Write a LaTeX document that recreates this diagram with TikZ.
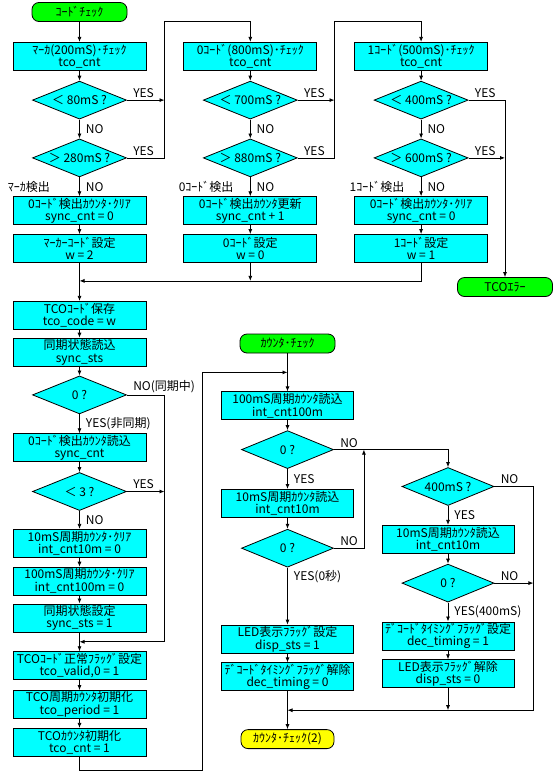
\documentclass[tikz,border=0pt]{standalone}
\usepackage{fontspec}
\setmainfont{Noto Sans CJK JP}
\usepackage{tikz}
\usetikzlibrary{positioning, calc, arrows.meta, shapes.geometric}

\definecolor{boxcyan}{RGB}{0,255,255}
\definecolor{termgreen}{RGB}{0,255,0}
\definecolor{termyellow}{RGB}{255,255,0}

\tikzset{
  txt/.style={font=\fontsize{12}{12.5}\selectfont, inner sep=0pt},
  procbox/.style={txt, draw, fill=boxcyan, minimum width=133pt, minimum height=28pt, align=center},
  condbox/.style={txt, draw, fill=boxcyan, diamond, shape aspect=2.5, minimum width=94pt, minimum height=38pt},
  termbox/.style={txt, draw, fill=termgreen, rounded corners=7pt, minimum width=95pt, minimum height=19pt},
  lbl/.style={txt, inner sep=1pt},
  hlbl/.style={lbl, above right, xshift=5pt, yshift=1pt},
  vlbl/.style={lbl, right, xshift=5pt},
  arr/.style={-{Latex[length=5pt,width=4pt]}},
}

\begin{document}
\begin{tikzpicture}[x=1pt, y=-1pt, line width=0.8pt]
  \useasboundingbox (0,0) rectangle (554,772);

  % code check
  \node[termbox] (start) at (79.5,12) {ｺｰﾄﾞﾁｪｯｸ};
  \node[procbox] (mk) [below=20pt of start] {ﾏｰｶ(200mS)･ﾁｪｯｸ\\tco\_cnt};
  \node[condbox] (mk80) [below=10pt of mk] {＜ 80mS ?};
  \node[condbox] (mk280) [below=19pt of mk80] {＞ 280mS ?};
  \node[procbox] (mkclr) [below=19pt of mk280] {0ｺｰﾄﾞ検出ｶｳﾝﾀ･ｸﾘｱ\\sync\_cnt = 0};
  \node[procbox] (mkset) [below=9pt of mkclr] {ﾏｰｶｰｺｰﾄﾞ設定\\w = 2};
  \node[lbl, above right=2pt and -6pt of mkclr.north west] (mkfound) {ﾏｰｶ検出};

  \node[procbox] (c0) [right=37pt of mk] {0ｺｰﾄﾞ(800mS)･ﾁｪｯｸ\\tco\_cnt};
  \node[condbox] (c0lt) [below=10pt of c0] {＜ 700mS ?};
  \node[condbox] (c0gt) [below=19pt of c0lt] {＞ 880mS ?};
  \node[procbox] (c0upd) [below=19pt of c0gt] {0ｺｰﾄﾞ検出ｶｳﾝﾀ更新\\sync\_cnt + 1};
  \node[procbox] (c0set) [below=9pt of c0upd] {0ｺｰﾄﾞ設定\\w = 0};
  \node[lbl, above right=2pt and -6pt of c0upd.north west] (c0found) {0ｺｰﾄﾞ検出};

  \node[procbox] (c1) [right=37pt of c0] {1ｺｰﾄﾞ(500mS)･ﾁｪｯｸ\\tco\_cnt};
  \node[condbox] (c1lt) [below=10pt of c1] {＜ 400mS ?};
  \node[condbox] (c1gt) [below=19pt of c1lt] {＞ 600mS ?};
  \node[procbox] (c1clr) [below=19pt of c1gt] {0ｺｰﾄﾞ検出ｶｳﾝﾀ･ｸﾘｱ\\sync\_cnt = 0};
  \node[procbox] (c1set) [below=9pt of c1clr] {1ｺｰﾄﾞ設定\\w = 1};
  \node[lbl, above right=2pt and -6pt of c1clr.north west] (c1found) {1ｺｰﾄﾞ検出};
  \node[termbox] (err) at (505,287) {TCOｴﾗｰ};

  \coordinate[below=18pt of mkset] (j1);
  \coordinate (r1) at (164.5,21);
  \coordinate (r2) at (334.5,21);

  % store and sync
  \node[procbox] (save) [below=38pt of mkset] {TCOｺｰﾄﾞ保存\\tco\_code = w};
  \node[procbox] (rdsts) [below=8pt of save] {同期状態読込\\sync\_sts};
  \node[condbox] (dsts) [below=9pt of rdsts] {0 ?};
  \node[procbox] (rdcnt) [below=19pt of dsts] {0ｺｰﾄﾞ検出ｶｳﾝﾀ読込\\sync\_cnt};
  \node[condbox] (d3) [below=10pt of rdcnt] {＜ 3 ?};
  \node[procbox] (clr10) [below=18pt of d3] {10mS周期ｶｳﾝﾀ･ｸﾘｱ\\int\_cnt10m = 0};
  \node[procbox] (clr100) [below=9pt of clr10] {100mS周期ｶｳﾝﾀ･ｸﾘｱ\\int\_cnt100m = 0};
  \node[procbox] (setsts) [below=8pt of clr100] {同期状態設定\\sync\_sts = 1};
  \coordinate[below=9.5pt of setsts] (j2);
  \node[procbox] (valid) [below=19pt of setsts] {TCOｺｰﾄﾞ正常ﾌﾗｯｸﾞ設定\\tco\_valid,0 = 1};
  \node[procbox] (period) [below=10pt of valid] {TCO周期ｶｳﾝﾀ初期化\\tco\_period = 1};
  \node[procbox] (tcocnt) [below=9pt of period] {TCOｶｳﾝﾀ初期化\\tco\_cnt = 1};
  \coordinate (lp) at (202,770);

  % counter check
  \node[termbox] (cc) at (287.5,343.5) {ｶｳﾝﾀ･ﾁｪｯｸ};
  \coordinate[below=19pt of cc] (j4);
  \node[procbox, minimum width=132pt] (rd100) [below=38pt of cc] {100mS周期ｶｳﾝﾀ読込\\int\_cnt100m};
  \node[condbox, minimum width=92pt] (z100) [below=10pt of rd100] {0 ?};
  \node[procbox, minimum width=132pt] (rd10) [below=20pt of z100] {10mS周期ｶｳﾝﾀ読込\\int\_cnt10m};
  \node[condbox, minimum width=92pt] (z10) [below=11pt of rd10] {0 ?};
  \node[procbox, minimum width=132pt] (ledset) [below=57pt of z10] {LED表示ﾌﾗｯｸﾞ設定\\disp\_sts = 1};
  \node[procbox, minimum width=132pt] (decclr) [below=9pt of ledset] {ﾃﾞｺｰﾄﾞﾀｲﾐﾝｸﾞﾌﾗｯｸﾞ解除\\dec\_timing = 0};
  \coordinate[below=19pt of decclr] (j6);
  \node[termbox, fill=termyellow, minimum width=93pt] (cc2) [below=38pt of decclr] {ｶｳﾝﾀ･ﾁｪｯｸ(2)};

  \node[condbox, minimum width=92pt] (d400) at (448,486.5) {400mS ?};
  \node[procbox, minimum width=132pt] (rd10b) [below=19pt of d400] {10mS周期ｶｳﾝﾀ読込\\int\_cnt10m};
  \node[condbox, minimum width=92pt] (z10b) [below=10pt of rd10b] {0 ?};
  \node[procbox, minimum width=132pt] (decset) [below=19pt of z10b] {ﾃﾞｺｰﾄﾞﾀｲﾐﾝｸﾞﾌﾗｯｸﾞ設定\\dec\_timing = 1};
  \node[procbox, minimum width=132pt] (ledclr) [below=9pt of decset] {LED表示ﾌﾗｯｸﾞ解除\\disp\_sts = 0};
  \coordinate (j5) at ($(z100.east)+(30,0)$);
  \coordinate (r5) at ($(d400.east)+(39,0)$);

  % code check arrows
  \draw[arr] (start) -- (mk);
  \draw[arr] (mk) -- (mk80);
  \draw[arr] (mk80) -- node[vlbl] {NO} (mk280);
  \draw[arr] (mk280) -- node[vlbl] {NO} (mkclr);
  \draw[arr] (mkclr) -- (mkset);
  \draw[arr] (mkset) -- (save);
  \draw[arr] (mk80.east) node[hlbl] {YES} -- (mk80.east -| r1);
  \draw[arr] (mk280.east) node[hlbl] {YES} -| (r1) -| (c0.north);

  \draw[arr] (c0) -- (c0lt);
  \draw[arr] (c0lt) -- node[vlbl] {NO} (c0gt);
  \draw[arr] (c0gt) -- node[vlbl] {NO} (c0upd);
  \draw[arr] (c0upd) -- (c0set);
  \draw[arr] (c0lt.east) node[hlbl] {YES} -- (c0lt.east -| r2);
  \draw[arr] (c0gt.east) node[hlbl] {YES} -| (r2) -| (c1.north);
  \draw[arr] (c0set.south) -- (c0set.south |- j1);

  \draw[arr] (c1) -- (c1lt);
  \draw[arr] (c1lt) -- node[vlbl] {NO} (c1gt);
  \draw[arr] (c1gt) -- node[vlbl] {NO} (c1clr);
  \draw[arr] (c1clr) -- (c1set);
  \draw[arr] (c1lt.east) node[hlbl] {YES} -| (err.north);
  \draw[arr] (c1gt.east) node[hlbl] {YES} -- (c1gt.east -| err.north);
  \draw[arr] (c1set.south) |- (j1);

  % sync arrows
  \draw[arr] (save) -- (rdsts);
  \draw[arr] (rdsts) -- (dsts);
  \draw[arr] (dsts) -- node[vlbl] {YES(非同期)} (rdcnt);
  \draw[arr] (rdcnt) -- (d3);
  \draw[arr] (d3) -- node[vlbl] {NO} (clr10);
  \draw[arr] (clr10) -- (clr100);
  \draw[arr] (clr100) -- (setsts);
  \draw[arr] (setsts) -- (valid);
  \draw[arr] (valid) -- (period);
  \draw[arr] (period) -- (tcocnt);
  \draw[arr] (dsts.east) node[hlbl] {NO(同期中)} -| (r1 |- j2) -- (j2);
  \draw[arr] (d3.east) node[hlbl] {YES} -- (d3.east -| r1);
  \draw[arr] (tcocnt.south) |- (lp) |- (j4);

  % counter arrows
  \draw[arr] (cc) -- (rd100);
  \draw[arr] (rd100) -- (z100);
  \draw[arr] (z100) -- node[vlbl] {YES} (rd10);
  \draw[arr] (rd10) -- (z10);
  \draw[arr] (z10) -- node[vlbl, pos=0.16] {YES(0秒)} (ledset);
  \draw[arr] (ledset) -- (decclr);
  \draw[arr] (decclr) -- (cc2);
  \draw[arr] (z100.east) node[hlbl] {NO} -| (d400.north);
  \draw[arr] (z10.east) node[hlbl] {NO} -| (j5);

  \draw[arr] (d400) -- node[vlbl] {YES} (rd10b);
  \draw[arr] (rd10b) -- (z10b);
  \draw[arr] (z10b) -- node[vlbl] {YES(400mS)} (decset);
  \draw[arr] (decset) -- (ledclr);
  \draw[arr] (ledclr.south) -- (ledclr.south |- j6);
  \draw[arr] (d400.east) node[hlbl] {NO} -- (r5) |- (j6);
  \draw[arr] (z10b.east) node[hlbl] {NO} -- (z10b.east -| r5);
\end{tikzpicture}
\end{document}
